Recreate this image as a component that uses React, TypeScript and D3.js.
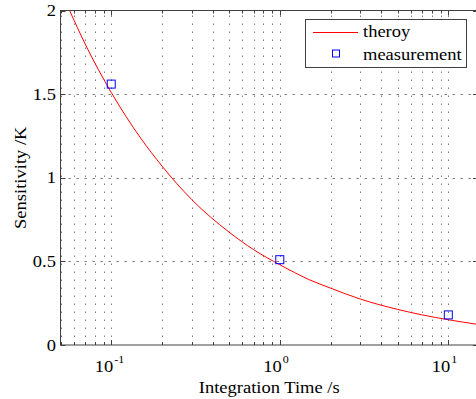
import * as d3 from 'd3';

// measured points
const measTime = [0.1, 1, 10];
const measSens = [1.56, 0.51, 0.18];

// theory curve
const theoryTime = [0.0566, 0.07, 0.1, 0.15, 0.2, 0.3, 0.5, 0.7, 1, 1.5, 2, 3, 5, 7, 10, 15];
const theorySens = [2.0, 1.8, 1.51, 1.235, 1.07, 0.87, 0.675, 0.57, 0.48, 0.39, 0.34, 0.275, 0.213, 0.18, 0.151, 0.123];

const yTicks = [0, 0.5, 1, 1.5, 2];
const yTickLabels = ['0', '0.5', '1', '1.5', '2'];
const xMajor = [0.1, 1, 10];
const xMajorExp = ['-1', '0', '1'];

const W = 476;
const H = 399;
const FONT = '"Liberation Serif", serif';
const STRETCH = 1.09;
const AXIS = '#404040';
const GRID = '#808080';

function SText({ x, y, anchor = 'start', size = 17, rotate = 0, children }: any) {
  return (
    <text
      transform={`translate(${x},${y}) rotate(${rotate}) scale(${STRETCH},1)`}
      textAnchor={anchor}
      fontFamily={FONT}
      fontSize={size}
      style={{ fontFamily: FONT, fontSize: size, fontWeight: 'normal' }}
      fill="#000"
    >
      {children}
    </text>
  );
}

export default function App() {
  const x = d3.scaleLog().domain([0.05, 15]).range([60.5, 478]);
  const y = d3.scaleLinear().domain([0, 2]).range([345, 10.5]);
  const [x0, x1] = x.range();
  const [yb, yt] = y.range();

  const allXTicks = x.ticks().filter(t => t >= 0.05 && t <= 15);
  const isMajor = (t: number) => xMajor.some(m => Math.abs(m - t) < 1e-9);

  const pts = theoryTime.map((t, i) => [x(t), y(theorySens[i])] as [number, number]);
  const line = d3.line().curve(d3.curveMonotoneX)(pts) || '';

  return (
    <svg width={W} height={H} style={{ position: 'absolute', left: 0, top: 0, background: '#fff' }}>
      <defs>
        <clipPath id="plot">
          <rect x={x0} y={yt} width={x1 - x0} height={yb - yt} />
        </clipPath>
      </defs>

      {/* grid */}
      <g stroke={GRID} strokeWidth={1} strokeDasharray="1.5,6.5" fill="none">
        {allXTicks.map(t => (
          <line key={'gx' + t} x1={Math.round(x(t)) + 0.5} x2={Math.round(x(t)) + 0.5} y1={yb} y2={yt} />
        ))}
        {yTicks.slice(1, -1).map(v => (
          <line key={'gy' + v} x1={x0} x2={x1} y1={Math.round(y(v)) + 0.5} y2={Math.round(y(v)) + 0.5} strokeDasharray="2.5,5.5" />
        ))}
      </g>

      {/* frame */}
      <g stroke={AXIS} strokeWidth={1} fill="none">
        <rect x={x0} y={yt} width={x1 - x0} height={yb - yt} />
        {allXTicks.map(t => {
          const px = Math.round(x(t)) + 0.5;
          const len = isMajor(t) ? 5 : 3;
          return (
            <g key={'tx' + t}>
              <line x1={px} x2={px} y1={yb} y2={yb - len} />
              <line x1={px} x2={px} y1={yt} y2={yt + len} />
            </g>
          );
        })}
        {yTicks.map(v => {
          const py = Math.round(y(v)) + 0.5;
          return (
            <g key={'ty' + v}>
              <line x1={x0} x2={x0 + 5} y1={py} y2={py} />
              <line x1={x1} x2={x1 - 5} y1={py} y2={py} />
            </g>
          );
        })}
      </g>

      {/* theory curve */}
      <path d={line} fill="none" stroke="#ff0000" strokeWidth={1} clipPath="url(#plot)" />

      {/* measurements */}
      {measTime.map((t, i) => (
        <rect
          key={'m' + t}
          x={x(t) - 4}
          y={y(measSens[i]) - 4}
          width={8}
          height={8}
          fill="none"
          stroke="#0000ff"
          strokeWidth={1}
        />
      ))}

      {/* y tick labels */}
      {yTicks.map((v, i) => (
        <SText key={'yl' + v} x={56} y={y(v) + 5.5} anchor="end">
          {yTickLabels[i]}
        </SText>
      ))}

      {/* x tick labels */}
      {xMajor.map((t, i) => (
        <g key={'xl' + t}>
          <SText x={x(t) + 2} y={372} anchor="end">10</SText>
          <SText x={x(t) + 3} y={363} size={11}>{xMajorExp[i]}</SText>
        </g>
      ))}

      {/* axis titles */}
      <SText x={(x0 + x1) / 2} y={393} anchor="middle">Integration Time /s</SText>
      <SText x={26} y={(yb + yt) / 2} anchor="middle" rotate={-90}>Sensitivity /K</SText>

      {/* legend */}
      <rect x={305.5} y={19.5} width={161} height={48} fill="#fff" stroke={AXIS} strokeWidth={1} />
      <line x1={313} x2={358} y1={32.5} y2={32.5} stroke="#ff0000" strokeWidth={1} />
      <SText x={363} y={37}>theroy</SText>
      <rect x={332.5} y={50} width={7} height={7} fill="none" stroke="#0000ff" strokeWidth={1} />
      <SText x={363} y={60}>measurement</SText>
    </svg>
  );
}
